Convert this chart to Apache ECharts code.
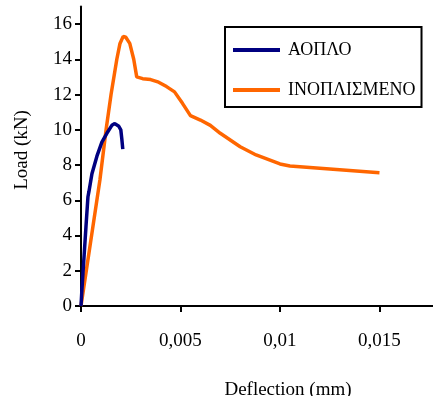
<!DOCTYPE html>
<html><head><meta charset="utf-8">
<script src="https://cdn.jsdelivr.net/npm/echarts@6/dist/echarts.min.js"></script>
<style>html,body{margin:0;padding:0;background:#fff}#c{width:433px;height:396px}</style>
</head><body><div id="c"></div>
<script>
const seriesNames = ['ΑΟΠΛΟ', 'ΙΝΟΠΛΙΣΜΕΝΟ'];
const xTicks = [0, 0.005, 0.01, 0.015];
const xTickLabels = ['0', '0,005', '0,01', '0,015'];
const yTicks = [0, 2, 4, 6, 8, 10, 12, 14, 16];
const aoploDeflection = [0, 0.00005, 0.00025, 0.00035, 0.0004, 0.00055, 0.0008, 0.00105, 0.0013, 0.00155, 0.0017, 0.0019, 0.002, 0.00205, 0.0021];
const aoploLoad =       [0, 1.0,     4.5,     6.2,     6.5,    7.5,     8.5,    9.3,     9.8,    10.25,   10.35,  10.2,   10.0,  9.5,     8.9];
const inoDeflection = [0, 0.00095, 0.00126, 0.00151, 0.0018, 0.00196, 0.00212, 0.00225, 0.00245, 0.00265, 0.0028, 0.0031, 0.0035, 0.0039, 0.0043, 0.0047, 0.0051, 0.0055, 0.006, 0.0065, 0.007, 0.008, 0.0088, 0.01, 0.0105, 0.015];
const inoLoad =       [0, 7.15,    10,      12,      14,     14.9,    15.3,    15.25,   14.9,    14.0,    13.0,   12.9,   12.85,  12.7,   12.45,  12.15,  11.5,   10.8,   10.55, 10.25,  9.8,   9.04,  8.57,   8.06, 7.94,   7.56];

const zip = (a, b) => a.map((v, i) => [v, b[i]]);
const F = '"Liberation Serif", "Times New Roman", serif';
const chart = echarts.init(document.getElementById('c'));
chart.setOption({
  animation: false,
  grid: { left: 81, right: 0, top: 6.4, bottom: 90, containLabel: false },
  xAxis: {
    type: 'value', min: 0, max: 0.01769,
    splitLine: { show: false },
    axisLine: { lineStyle: { color: '#000', width: 2 } },
    axisTick: { customValues: xTicks, length: 6, inside: false, lineStyle: { color: '#000', width: 2 } },
    axisLabel: { customValues: xTicks, formatter: v => xTickLabels[xTicks.indexOf(v)] ?? '', color: '#000', fontFamily: F, fontSize: 19, margin: 26 }
  },
  yAxis: {
    type: 'value', min: 0, max: 17,
    splitLine: { show: false },
    axisLine: { onZero: false, lineStyle: { color: '#000', width: 2 } },
    axisTick: { customValues: yTicks, length: 6, lineStyle: { color: '#000', width: 2 } },
    axisLabel: { customValues: yTicks, color: '#000', fontFamily: F, fontSize: 19, margin: 9 }
  },
  legend: {
    orient: 'vertical', left: 225, top: 27,
    data: seriesNames,
    icon: 'rect', itemWidth: 47, itemHeight: 4, itemGap: 22,
    borderColor: '#000', borderWidth: 2, padding: [14, 6, 8, 8],
    textStyle: { color: '#000', fontFamily: F, fontSize: 18, padding: [0, 0, 0, 3] }
  },
  graphic: [
    { type: 'text', x: 22, y: 150, rotation: Math.PI / 2, style: { text: 'Load (kN)', font: '19px ' + F, fill: '#000', align: 'center', verticalAlign: 'middle' } },
    { type: 'text', x: 288, y: 390, style: { text: 'Deflection (mm)', font: '19px ' + F, fill: '#000', align: 'center', verticalAlign: 'middle' } }
  ],
  series: [
    { name: seriesNames[0], type: 'line', data: zip(aoploDeflection, aoploLoad), showSymbol: false, symbol: 'none', lineStyle: { color: '#000080', width: 3.5 }, itemStyle: { color: '#000080' }, z: 3 },
    { name: seriesNames[1], type: 'line', data: zip(inoDeflection, inoLoad), showSymbol: false, symbol: 'none', lineStyle: { color: '#FF6600', width: 3.5 }, itemStyle: { color: '#FF6600' }, z: 2 }
  ]
});
</script></body></html>
